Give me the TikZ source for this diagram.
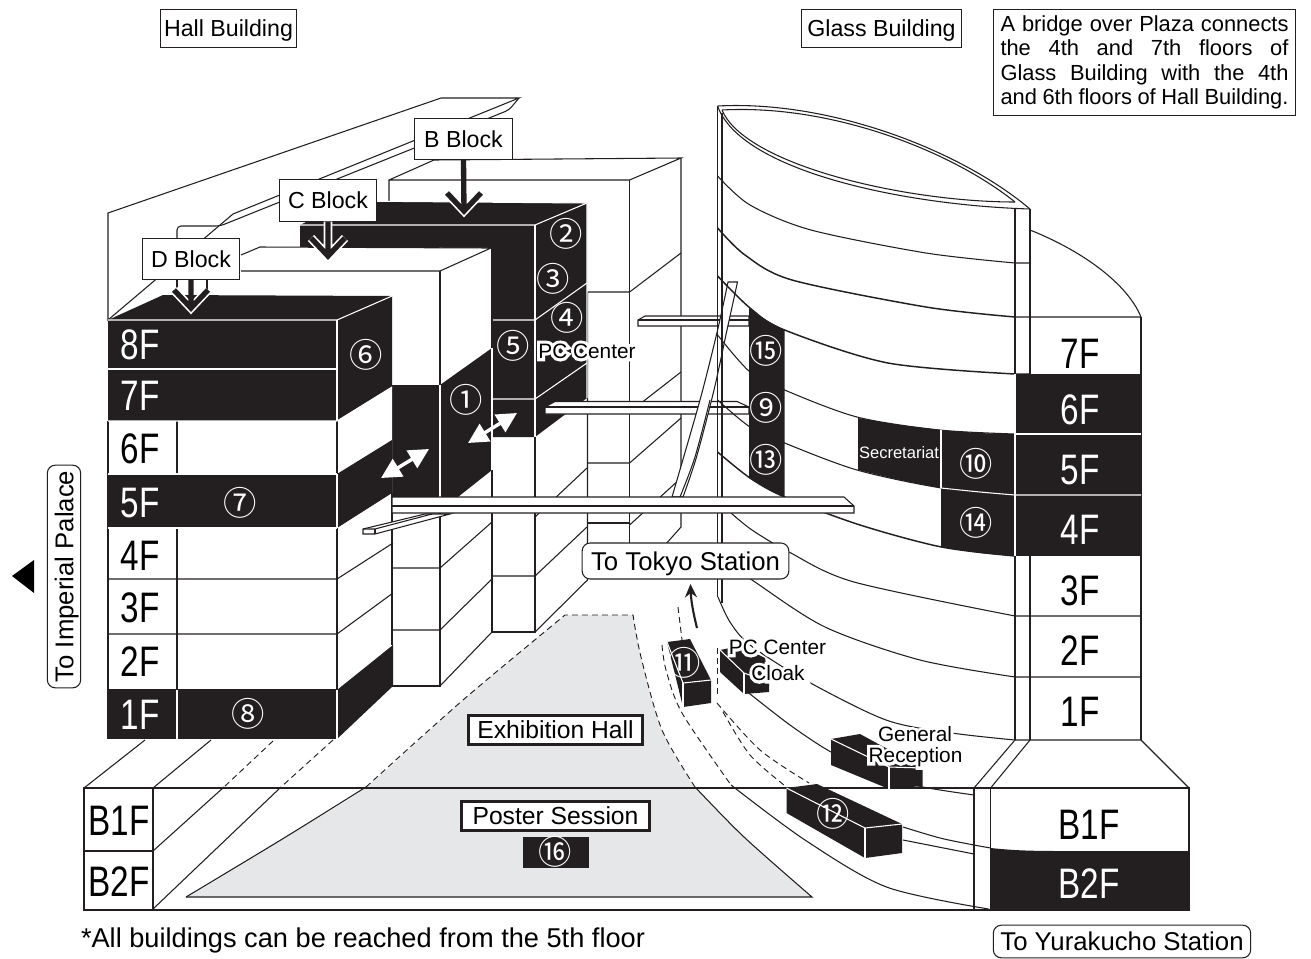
\documentclass[tikz,border=0pt]{standalone}
\usepackage{fontspec}
\setmainfont{Liberation Sans}
\newfontfamily\numfont{Noto Sans CJK JP}
\newfontfamily\halofont[FakeBold=30]{Liberation Sans}
\usetikzlibrary{arrows.meta}
\newcommand{\floortext}[1]{\scalebox{.78}[1]{#1}}
\newcommand{\halo}[1]{\rlap{\textcolor{white}{\halofont #1}}#1}
\definecolor{hallgrey}{HTML}{E6E7E8}
\definecolor{inkblack}{HTML}{231F20}
\tikzset{
    labelbox/.style={draw, fill=white, line width=.8pt, inner sep=2pt, text height=12.5pt, text depth=0pt, font=\fontsize{17.4}{20}\selectfont},
    thickbox/.style={labelbox, line width=2.2pt, text height=13.3pt, font=\fontsize{18.5}{20}\selectfont},
    roundbox/.style={labelbox, rounded corners=6pt, text height=13.9pt, font=\fontsize{19.3}{20}\selectfont},
    floordark/.style={text=black, font=\fontsize{32}{34}\selectfont},
    floorlight/.style={text=white, font=\fontsize{32}{34}\selectfont},
    numlabel/.style={text=white, inner sep=0pt, font=\numfont\fontsize{25}{27}\selectfont},
    halolabel/.style={inner sep=0pt, font=\fontsize{15.6}{17}\selectfont},
    blocktip/.style={line width=4pt, line join=miter},
    whitearrow/.style={white, line width=2.6pt, {Triangle[length=15pt,width=15pt]}-{Triangle[length=15pt,width=15pt]}},
    whiteline/.style={white, line width=.8pt},
    dashline/.style={line width=.7pt, dashed, dash pattern=on 4.5pt off 3pt}
}
\begin{document}
\begin{tikzpicture}[x=.75pt, y=-.75pt, line width=.8pt, draw=inkblack, fill=inkblack]
    \useasboundingbox (0,0) rectangle (1311,958);
    \fill[white] (0,0) rectangle (1311,958);

    % Ground floor plaza and hall
    \fill[hallgrey] plot[smooth] coordinates {(186,897) (284,838) (366,787) (463,700) (565,615)} -- (633,615)
        -- plot[smooth] coordinates {(633,615) (641,657) (662,730) (695,787) (744,837) (812,897)} -- cycle;
    \draw plot[smooth] coordinates {(186,897) (284,838) (366,787)};
    \draw[dashline] plot[smooth] coordinates {(366,787) (463,700) (565,615)} -- (633,615)
        -- plot[smooth] coordinates {(633,615) (641,657) (662,730) (695,787)};
    \draw plot[smooth] coordinates {(695,787) (744,837) (812,897)} -- (186,897);

    % Basement
    \draw (84,788) rectangle (153,851);
    \draw (84,851) rectangle (153,910);
    \draw (153,788) -- (1189,788) -- (1189,910) -- (84,910);
    \draw (974,788) -- (974,910);
    \draw (990.6,788) -- (990.6,910);
    \draw (145,740) -- (84,788);
    \draw (211,740) -- (153,788);
    \draw[dashline] (273,741) -- (224,787);
    \draw (224,787) -- (153,851);
    \draw[dashline] (333,740) -- (281,787);
    \draw (281,787) -- (153,909);
    \draw (974,788) -- (1015,740);
    \draw (990.6,788) -- (1030,740);
    \draw (1189,788) -- (1141,740);
    \fill[inkblack] (990.6,848) .. controls (1010,850) and (1025,851) .. (1060,851) -- (1189,851) -- (1189,910) -- (990.6,910) -- cycle;

    % Rear outline of Hall Building
    \draw (108,320) -- (108,213) -- (441,98) -- (519,98) -- (233,214) -- cycle;
    \draw[rounded corners=3pt] (177,240) -- (177,226) -- (220,226) -- (509,110) -- (519,98);
    \draw (177,280) -- (177,290);
    \draw (207,280) -- (207,290);

    % B Block
    \fill[white] (389,201) -- (389,180) -- (434,160) -- (681,158) -- (681,527) -- (665,545) -- (392,686) -- cycle;
    \draw (389,201) -- (389,180) -- (434,160) -- (681,158) -- (629.6,180) -- (389,180);
    \draw (681,158) -- (681,527) -- (665,545);
    \draw (629.6,180) -- (629.6,560);
    \draw (587.5,292) -- (629.6,292) -- (681,253);
    \draw (587.5,292) -- (587.5,580) -- (535,632);
    \draw (587,463) -- (629.6,463) -- (681,418);
    \draw (629.6,412) -- (681,372);
    \draw (535,517) -- (587,468);
    \draw (629.6,525) -- (681,478);
    \draw (587,523) -- (629.6,523);
    \draw (587,527) -- (535,576) -- (492,576);
    \draw (492,248) -- (492,632) -- (535,632) -- (535,437);
    \fill[inkblack] (300,247) -- (300,225) -- (348,201) -- (587,203) -- (587,398) -- (535,437) -- (492,437) -- (492,248) -- cycle;
    \draw[whiteline] (300,225) -- (535,225) -- (587,203);
    \draw[whiteline] (535,225) -- (535,437);
    \draw[whiteline] (492,320) -- (535,320) -- (587,283);
    \draw[whiteline] (492,399) -- (535,399) -- (587,363);
    \draw[whiteline] (348,201) -- (587,203) -- (587,398);

    % C Block
    \fill[white] (241,255) -- (260,247) -- (491,248) -- (492,470) -- (440,497) -- (241,497) -- cycle;
    \draw (241,255) -- (260,247) -- (491,248) -- (440,271) -- (241,271);
    \draw (440,271) -- (440,385);
    \fill[inkblack] (392,385) -- (440,385) -- (492,348) -- (492,470) -- (458,497) -- (392,497) -- cycle;
    \draw[whiteline] (440,385) -- (440,497);
    \draw[whiteline] (492,348) -- (492,470);
    \draw (492,248) -- (492,348);
    \draw (392,513) -- (392,686) -- (440,686) -- (440,513);
    \draw (392,568) -- (440,568) -- (492,522);
    \draw (392,630) -- (440,630) -- (492,579);
    \draw (440,686) -- (492,632);

    % D Block
    \fill[inkblack] (108,320) -- (163,295) -- (392,296) -- (392,387) -- (337,421) -- (108,421) -- cycle;
    \fill[white] (108,421) rectangle (337,739);
    \fill[white] (337,421) -- (392,387) -- (392,686) -- (337,739) -- cycle;
    \fill[inkblack] (108,474) rectangle (337,528);
    \fill[inkblack] (337,474) -- (392,440) -- (392,493) -- (337,528) -- cycle;
    \fill[inkblack] (108,690) rectangle (337,739);
    \fill[inkblack] (337,690) -- (393,645) -- (393,686) -- (337,739) -- cycle;
    \draw (108,421) -- (108,739);
    \draw (177,421) -- (177,474);
    \draw (177,528) -- (177,690);
    \draw (108,579) -- (337,579) -- (393,543);
    \draw (108,634) -- (337,634) -- (393,593);
    \draw (108,690) -- (337,690);
    \draw (337,421) -- (337,690);
    \draw (392,493) -- (392,645);
    \draw[whiteline] (108,320) -- (337,320) -- (392,296);
    \draw[whiteline] (337,320) -- (337,421);
    \draw[whiteline] (108,369) -- (337,369);
    \draw[whiteline] (108,421) -- (337,421) -- (392,387);
    \draw[whiteline] (108,474) -- (337,474);
    \draw[whiteline] (337,474) -- (337,528);
    \draw[whiteline] (108,528) -- (337,528);
    \draw[whiteline] (177,690) -- (177,739);
    \draw[whiteline] (337,690) -- (337,739);

    % Upper bridges
    \draw[fill=white] (638,320) -- (645,316) -- (749,316) -- (749,326) -- (638,326) -- cycle;
    \draw (638,320) -- (749,320);
    \draw[fill=white] (545,407) -- (555,401.5) -- (737,401.5) -- (749,407) -- (749,414) -- (545,414) -- cycle;
    \draw (545,407) -- (749,407);

    % Curved bridge
    \draw[fill=white] plot[smooth] coordinates {(728,282) (717.6,330) (700,400) (672,497)} -- (683,497)
        -- plot[smooth] coordinates {(683,497) (696.5,457) (714,390) (727,330) (737.5,282)} -- cycle;
    \draw plot[smooth] coordinates {(710,400) (695,457) (680,497)};

    % Glass Building
    \draw (1030,230) .. controls (1085,252) and (1128,285) .. (1141,317);
    \draw (717.6,106) -- (717.6,597);
    \draw (722,113) -- (722,603);
    \draw (1015,209) -- (1015,740);
    \draw (1030,209) -- (1030,374);
    \draw (1030,556) -- (1030,740);
    \draw (1141,317) -- (1141,740);
    \draw (717.6,106) .. controls (830,100) and (960,150) .. (1030,209);
    \draw (717.6,106) .. controls (740,170) and (900,205) .. (1030,209);
    \draw (722,110) .. controls (830,104) and (950,150) .. (1015,202);
    \draw (722,110) .. controls (745,165) and (905,202) .. (1015,202);
    \draw plot[smooth] coordinates {(717.6,176) (750,205) (811,230) (926,253) (1015,263)} -- (1030,263);
    \draw[line width=1.1pt] plot[smooth] coordinates {(717.6,228) (745,255) (792,280) (926,307) (1015,317)} -- (1141,317);
    \draw[line width=1.1pt] plot[smooth] coordinates {(717.6,276) (750,308) (784.6,330) (888,363) (1015,374)} -- (1030,374);
    \draw plot[smooth] coordinates {(717.6,335) (750,372) (784.6,390) (857,417) (939.5,430) (1015,434)};
    \draw plot[smooth] coordinates {(717.6,400) (750,427) (784.6,443) (857,470) (941.5,488) (1015,495)};
    \draw[line width=1.1pt] plot[smooth] coordinates {(717.6,452) (750,478) (784.6,497) (860,525) (941.5,547) (1015,556)};
    \draw plot[smooth] coordinates {(731,513) (752,530) (789,552) (854,582) (1015,616)} -- (1141,616);
    \draw plot[smooth] coordinates {(722,560) (752,580) (825,627) (920,660) (1015,677)} -- (1141,677);
    \draw plot[smooth] coordinates {(718,597) (730,622) (750,645) (805,680) (886,720) (952,733) (1015,740)} -- (1141,740);
    \draw plot[smooth] coordinates {(745,690) (790,725) (831,752) (880,775) (923,787) (974,795)};
    \draw plot[smooth] coordinates {(903,827) (940,838) (974,845) (990.6,848)};
    \draw (903,840) -- (974,854);
    \draw plot[smooth] coordinates {(731,785) (805,840) (886.5,887) (988.6,909)};

    % Dashed paths on the ground
    \draw[dashline] (678,607) -- (682,640);
    \draw[dashline] plot[smooth] coordinates {(662,645) (666,670) (682,713) (731,785)};
    \draw[dashline] (717,648) -- (717,697);
    \draw[dashline] plot[smooth] coordinates {(717,703) (760,750) (809,783)};
    \draw[dashline] plot[smooth] coordinates {(723,712) (750,755) (786.5,787)};

    % Black floors of Glass Building
    \fill[inkblack] plot[smooth] coordinates {(749,308) (766,320) (784.6,330)}
        -- plot[smooth] coordinates {(784.6,497) (766,488) (749,478)} -- cycle;
    \fill[inkblack] plot[smooth] coordinates {(858,418) (900,425) (941,430)}
        -- plot[smooth] coordinates {(941,488) (900,480) (858,470)} -- cycle;
    \fill[inkblack] plot[smooth] coordinates {(941,430) (980,433) (1015,434)} -- (1015,556)
        -- plot[smooth] coordinates {(1015,556) (980,553) (941,547)} -- cycle;
    \fill[inkblack] (1015,374) rectangle (1141,556);
    \draw[whiteline] (941,430) -- (941,488);
    \draw[whiteline] plot[smooth] coordinates {(941,488) (980,492) (1015,495)} -- (1141,495);
    \draw[whiteline] (1015,434) -- (1141,434);
    \draw[whiteline] (1015,374) -- (1015,556);

    % Low bridge
    \draw[fill=white] (392,497) -- (844,497) -- (854,506) -- (854,513) -- (392,513) -- cycle;
    \draw (392,506) -- (854,506);
    \draw[fill=white] (363,529) -- (425,514) -- (450,514) -- (375,534) -- (363,534) -- cycle;
    \draw (363,529) -- (375,529) -- (432,514);
    \draw (375,529) -- (375,534);

    % Kiosks on the ground
    \fill[inkblack] (667,642) -- (690,639) -- (711,680) -- (711,703) -- (683,707) -- cycle;
    \draw[whiteline] (667,642) -- (683,683) -- (711,680);
    \draw[whiteline] (683,683) -- (683,707);
    \fill[inkblack] (720,650) -- (740,646) -- (765,658) -- (769,682) -- (769,692) -- (744,694) -- (720,672) -- cycle;
    \draw[whiteline] (720,650) -- (744,673) -- (769,682);
    \draw[whiteline] (744,673) -- (744,694);
    \fill[inkblack] (831,739) -- (860,734) -- (922.5,768) -- (922.5,786) -- (889,789) -- (831,765) -- cycle;
    \draw[whiteline] (831,739) -- (889,767) -- (922.5,768);
    \draw[whiteline] (889,767) -- (889,789);
    \fill[inkblack] (786.5,788) -- (817,784) -- (902,824) -- (902,853) -- (865,858) -- (786.5,813) -- cycle;
    \draw[whiteline] (786.5,788) -- (865,828) -- (902,824);
    \draw[whiteline] (865,828) -- (865,858);
    \fill[inkblack] (522.5,837) rectangle (588.5,868);

    % Block labels and their arrows
    \node[labelbox, minimum width=73pt, minimum height=31pt] (bblock) at (463.5,139) {B Block};
    \node[labelbox, minimum width=73pt, minimum height=31pt] (cblock) at (328,200.5) {C Block};
    \node[labelbox, minimum width=73pt, minimum height=31pt] (dblock) at (191,259) {D Block};
    \coordinate (btip) at (464,211);
    \coordinate (ctip) at (328,256);
    \coordinate (dtip) at (191,308);
    \draw[white, blocktip, line width=6.5pt] (cblock.south) -- (ctip) ++(-17,-18) -- (ctip) -- ++(17,-18);
    \draw[white, blocktip, line width=6.5pt] (btip) ++(-17,-18) -- (btip) -- ++(17,-18);
    \draw[white, blocktip, line width=6.5pt] (dtip) ++(-17,-18) -- (dtip) -- ++(17,-18);
    \draw[inkblack, blocktip] (bblock.south) -- (btip) ++(-17,-18) -- (btip) -- ++(17,-18);
    \draw[inkblack, blocktip] (cblock.south) -- (ctip) ++(-17,-18) -- (ctip) -- ++(17,-18);
    \draw[inkblack, blocktip] (dblock.south) -- (dtip) ++(-17,-18) -- (dtip) -- ++(17,-18);

    % Arrows between blocks
    \coordinate (linka) at (468,443);
    \coordinate (linkb) at (517,413);
    \coordinate (linkc) at (381,478);
    \coordinate (linkd) at (429,449);
    \draw[whitearrow] (linka) -- (linkb);
    \draw[whitearrow] (linkc) -- (linkd);

    % Building names and notes
    \node[labelbox, minimum width=102pt, minimum height=28pt] (hall) at (228.5,28.5) {Hall Building};
    \node[labelbox, minimum width=120pt, minimum height=28pt] (glass) at (881.5,28.5) {Glass Building};
    \node[draw, fill=white, inner sep=0pt, minimum width=227pt, minimum height=79pt, align=left, font=\fontsize{16.4}{18.4}\selectfont] (bridgenote) at (1144.5,62.5) {%
        \makebox[216pt][s]{A bridge over Plaza connects}\\
        \makebox[216pt][s]{the 4th and 7th floors of}\\
        \makebox[216pt][s]{Glass Building with the 4th}\\
        \makebox[216pt][s]{and 6th floors of Hall Building.}};
    \node[roundbox, minimum width=155pt, minimum height=27pt] (tokyo) at (685.5,561) {To Tokyo Station};
    \node[roundbox, minimum width=193pt, minimum height=24.5pt] (yurakucho) at (1122,941.5) {To Yurakucho Station};
    \node[roundbox, rotate=90, minimum width=167pt, minimum height=25pt] (palace) at (64,576.5) {To Imperial Palace};
    \node[font=\fontsize{20.4}{22}\selectfont, inner sep=0pt] (footnote) at (363,940) {*All buildings can be reached from the 5th floor};
    \fill[black] (12,576) -- (34,560) -- (34,593) -- cycle;

    % Tokyo Station arrow
    \coordinate (walkstart) at (697,628);
    \coordinate (walkend) at (690.5,584);
    \draw[line width=1.6pt, -{Stealth[length=10pt,width=9pt]}] (walkstart) .. controls (693,612) and (691,600) .. (walkend);

    % Hall floors
    \node[floorlight] (hall8f) at (140,345) {\floortext{8F}};
    \node[floorlight] (hall7f) at (140,396) {\floortext{7F}};
    \node[floordark] (hall6f) at (140,449) {\floortext{6F}};
    \node[floorlight] (hall5f) at (140,503) {\floortext{5F}};
    \node[floordark] (hall4f) at (140,556) {\floortext{4F}};
    \node[floordark] (hall3f) at (140,608) {\floortext{3F}};
    \node[floordark] (hall2f) at (140,662) {\floortext{2F}};
    \node[floorlight] (hall1f) at (140,715) {\floortext{1F}};
    \node[floordark] (hallb1f) at (119,821) {\floortext{B1F}};
    \node[floordark] (hallb2f) at (119,882) {\floortext{B2F}};

    % Glass floors
    \node[floordark] (glass7f) at (1080,354) {\floortext{7F}};
    \node[floorlight] (glass6f) at (1080,410) {\floortext{6F}};
    \node[floorlight] (glass5f) at (1080,470) {\floortext{5F}};
    \node[floorlight] (glass4f) at (1080,530) {\floortext{4F}};
    \node[floordark] (glass3f) at (1080,591) {\floortext{3F}};
    \node[floordark] (glass2f) at (1080,651) {\floortext{2F}};
    \node[floordark] (glass1f) at (1080,712) {\floortext{1F}};
    \node[floordark] (glassb1f) at (1089,825) {\floortext{B1F}};
    \node[floorlight] (glassb2f) at (1089,884) {\floortext{B2F}};

    % Numbered rooms
    \node[numlabel] (room1) at (466,400) {①};
    \node[numlabel] (room2) at (566.5,234) {②};
    \node[numlabel] (room3) at (553,279) {③};
    \node[numlabel] (room4) at (567.5,318) {④};
    \node[numlabel] (room5) at (513,346) {⑤};
    \node[numlabel] (room6) at (366,355) {⑥};
    \node[numlabel] (room7) at (240,503) {⑦};
    \node[numlabel] (room8) at (248,714) {⑧};
    \node[numlabel] (room9) at (766.5,408) {⑨};
    \node[numlabel] (room10) at (976,464) {⑩};
    \node[numlabel] (room11) at (684,663) {⑪};
    \node[numlabel] (room12) at (833.5,814) {⑫};
    \node[numlabel] (room13) at (766.5,460) {⑬};
    \node[numlabel] (room14) at (976.5,522.5) {⑭};
    \node[numlabel] (room15) at (766.5,350.5) {⑮};
    \node[numlabel] (room16) at (555,852) {⑯};

    % Room names
    \node[text=white, inner sep=0pt, font=\fontsize{12.4}{14}\selectfont] (secretariat) at (899,453) {Secretariat};
    \node[halolabel] (pcupper) at (587,351) {\halo{PC Center}};
    \node[halolabel] (pclower) at (777.5,647) {\halo{PC Center}};
    \node[halolabel] (cloak) at (778,673) {\halo{Cloak}};
    \node[halolabel] (general) at (915,734) {\halo{General}};
    \node[halolabel] (reception) at (915.5,757) {\halo{Reception}};

    % Ground labels
    \node[thickbox, minimum width=130pt, minimum height=22pt] (exhibition) at (555.5,730) {Exhibition Hall};
    \node[thickbox, minimum width=141pt, minimum height=22pt] (poster) at (555.5,816) {Poster Session};
\end{tikzpicture}
\end{document}
